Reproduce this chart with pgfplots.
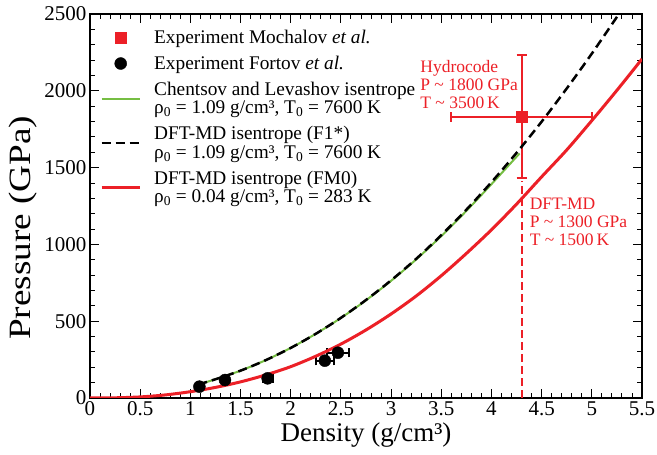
\documentclass[border=0pt]{standalone}
\usepackage{fontspec}
\setmainfont{Liberation Serif}
\usepackage{graphicx}
\usepackage{pgfplots}
\pgfplotsset{compat=1.18}

\definecolor{myred}{RGB}{236,32,39}
\definecolor{mygreen}{RGB}{118,190,67}

\begin{document}
\begin{tikzpicture}
\path[use as bounding box] (-90pt,-57pt) rectangle (567pt,398pt);
\begin{axis}[
    scale only axis,
    width=552pt, height=384pt,
    xmin=0, xmax=5.5,
    ymin=0, ymax=2500,
    xtick={0,0.5,...,5.5},
    ytick={0,500,...,2500},
    minor x tick num=4,
    minor y tick num=4,
    tick align=inside,
    major tick length=9pt,
    minor tick length=5pt,
    every tick/.style={black, line width=0.9pt},
    axis line style={line width=1.3pt},
    ticklabel style={font=\fontsize{21}{21}\selectfont},
    /pgf/number format/assume math mode=true,
    /pgf/number format/1000 sep={},
    unbounded coords=jump,
    xlabel={\fontsize{27}{27}\selectfont Density (g/cm³)},
    ylabel={\fontsize{31}{31}\selectfont\scalebox{1.2}[1]{Pressure (GPa)}},
    ylabel style={at={(ticklabel cs:0.443)}},
    legend style={at={(0,1)}, anchor=north west, xshift=10pt, yshift=-14pt,
        draw=none, fill=none, inner sep=0pt, row sep=7pt,
        font=\fontsize{19.3}{18.5}\selectfont,
        cells={anchor=west, align=left},
        /tikz/every odd column/.append style={column sep=11pt}},
    legend image code/.code={\draw[mark repeat=2,mark phase=2,#1]
        plot coordinates {(0pt,0pt) (19pt,0pt) (38pt,0pt)};},
]

% error bars, Mochalov et al.: (4.3,1830), dx 0.7, dy 400
\addplot[myred, line width=2pt, forget plot] coordinates {
    (3.6,1830) (5.0,1830) (nan,nan)
    (4.3,1430) (4.3,2233) (nan,nan)
    (3.6,1797) (3.6,1863) (nan,nan)
    (5.0,1797) (5.0,1863) (nan,nan)
    (4.25,1430) (4.35,1430) (nan,nan)
    (4.25,2233) (4.35,2233)
};
% error bars, Fortov et al.
\addplot[black, line width=1.8pt, forget plot] coordinates {
    (1.72,128) (1.82,128) (nan,nan)
    (1.72,100) (1.72,156) (nan,nan)
    (1.82,100) (1.82,156) (nan,nan)
    (2.25,243) (2.43,243) (nan,nan)
    (2.25,213) (2.25,273) (nan,nan)
    (2.43,213) (2.43,273) (nan,nan)
    (2.36,295) (2.58,295) (nan,nan)
    (2.36,265) (2.36,325) (nan,nan)
    (2.58,265) (2.58,325)
};

% Mochalov et al.
\addplot[only marks, mark=square*, mark size=5.5pt, color=myred]
    coordinates {(4.3,1830)};
\addlegendentry{Experiment Mochalov \textit{et al.}}

% Fortov et al.
\addplot[only marks, mark=*, mark size=6pt, black] coordinates {
    (1.09,74) (1.345,117) (1.77,128) (2.34,243) (2.47,295)
};
\addlegendentry{Experiment Fortov \textit{et al.}}

% Chentsov and Levashov
\addplot[mygreen, line width=2pt, smooth] coordinates {
    (1.08,88) (1.25,122) (1.5,178) (1.75,246) (2.0,326) (2.25,418)
    (2.5,521) (2.75,636) (3.0,763) (3.25,902) (3.5,1054) (3.75,1218)
    (4.0,1392) (4.28,1592)
};
\addlegendentry{Chentsov and Levashov isentrope\\ρ\textsubscript{0} = 1.09 g/cm³, T\textsubscript{0} = 7600 K}

% DFT-MD F1*
\addplot[black, line width=2.5pt, dash pattern=on 9pt off 5pt, smooth] coordinates {
    (1.08,88) (1.25,122) (1.5,178) (1.75,246) (2.0,326) (2.25,418)
    (2.5,522) (2.75,638) (3.0,766) (3.25,906) (3.5,1060) (3.75,1226)
    (4.0,1405) (4.25,1596) (4.5,1799) (4.75,2015) (5.0,2242) (5.27,2500)
};
\addlegendentry{DFT-MD isentrope (F1*)\\ρ\textsubscript{0} = 1.09 g/cm³, T\textsubscript{0} = 7600 K}

% DFT-MD FM0
\addplot[myred, line width=3pt, smooth] coordinates {
    (0,0) (0.25,1.3) (0.5,7) (0.75,20) (1.0,41) (1.25,69) (1.5,105)
    (1.75,150) (2.0,204) (2.25,272) (2.5,351) (2.75,443) (3.0,547)
    (3.25,664) (3.5,796) (3.75,941) (4.0,1095) (4.25,1262) (4.5,1440)
    (4.75,1615) (5.0,1806) (5.25,2003) (5.5,2207)
};
\addlegendentry{DFT-MD isentrope (FM0)\\ρ\textsubscript{0} = 0.04 g/cm³, T\textsubscript{0} = 283 K}

% vertical marker
\addplot[myred, line width=2pt, dash pattern=on 8pt off 4pt, forget plot]
    coordinates {(4.3,0) (4.3,1410)};

\node[anchor=west, align=left, text=myred, inner sep=0pt,
    font=\fontsize{17.5}{18}\selectfont] at (axis cs:3.29,2044)
    {Hydrocode\\P \textasciitilde{} 1800 GPa\\T \textasciitilde{} 3500\,K};
\node[anchor=west, align=left, text=myred, inner sep=0pt,
    font=\fontsize{17.5}{18}\selectfont] at (axis cs:4.38,1146)
    {DFT-MD\\P \textasciitilde{} 1300 GPa\\T \textasciitilde{} 1500\,K};

\end{axis}
\end{tikzpicture}
\end{document}
